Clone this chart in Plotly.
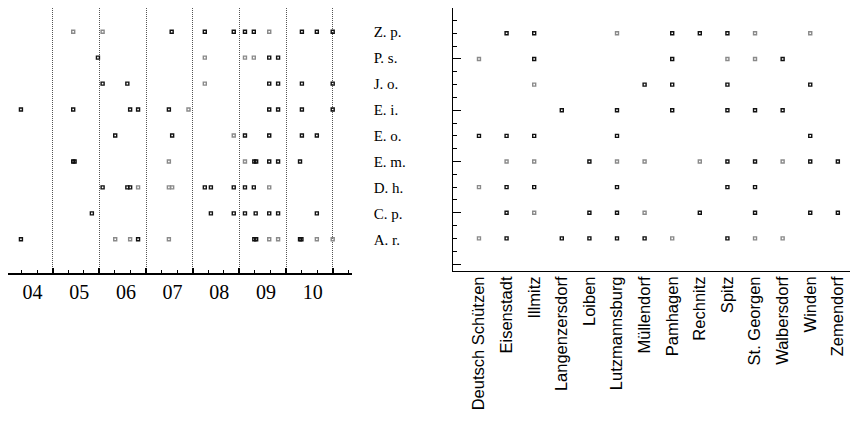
import plotly.graph_objects as go

# ---------------- data ----------------
species = ["A. r.", "C. p.", "D. h.", "E. m.", "E. o.", "E. i.", "J. o.", "P. s.", "Z. p."]
year_labels = ["04", "05", "06", "07", "08", "09", "10"]
years = [2004, 2005, 2006, 2007, 2008, 2009, 2010, 2011]
sites = ["Deutsch Schützen", "Eisenstadt", "Illmitz", "Langenzersdorf", "Loiben",
         "Lutzmannsburg", "Müllendorf", "Pamhagen", "Rechnitz", "Spitz",
         "St. Georgen", "Walbersdorf", "Winden", "Zemendorf"]

# left panel: observation time (decimal year) per species; shade d=dark, l=light
zp_year = [2005.44, 2006.07, 2007.55, 2008.26, 2008.88, 2009.12, 2009.31, 2009.64, 2010.34, 2010.66, 2011.00]
zp_shade = ["l", "l", "d", "d", "d", "d", "d", "l", "d", "d", "d"]
ps_year = [2005.97, 2008.26, 2009.12, 2009.31, 2009.64, 2009.83]
ps_shade = ["d", "l", "l", "l", "d", "d"]
jo_year = [2006.07, 2006.60, 2008.26, 2009.64, 2009.83, 2010.34, 2011.00]
jo_shade = ["d", "d", "l", "d", "d", "d", "d"]
ei_year = [2004.32, 2005.44, 2006.66, 2006.83, 2007.49, 2007.91, 2009.64, 2009.83, 2010.34, 2011.00]
ei_shade = ["d", "d", "d", "d", "d", "l", "d", "d", "d", "d"]
eo_year = [2006.34, 2007.56, 2008.88, 2009.12, 2009.64, 2010.34, 2010.66]
eo_shade = ["d", "d", "l", "d", "d", "d", "d"]
em_year = [2005.44, 2005.47, 2007.49, 2009.12, 2009.32, 2009.36, 2009.64, 2009.83, 2010.30]
em_shade = ["d", "d", "l", "l", "d", "d", "d", "d", "d"]
dh_year = [2006.07, 2006.60, 2006.66, 2006.83, 2007.49, 2007.56, 2008.26, 2008.39, 2008.88, 2009.12, 2009.31, 2009.64]
dh_shade = ["d", "d", "d", "l", "l", "l", "d", "d", "d", "d", "d", "l"]
cp_year = [2005.84, 2008.39, 2008.88, 2009.12, 2009.35, 2009.64, 2009.83, 2010.66]
cp_shade = ["d", "d", "d", "d", "d", "d", "d", "d"]
ar_year = [2004.32, 2006.34, 2006.66, 2006.83, 2007.49, 2009.32, 2009.36, 2009.64, 2009.83, 2010.30, 2010.33, 2010.66, 2011.00]
ar_shade = ["d", "l", "l", "d", "l", "d", "d", "l", "l", "d", "d", "l", "l"]

# right panel: sites where each species occurs; shade d=dark, l=light
zp_site = ["Eisenstadt", "Illmitz", "Lutzmannsburg", "Pamhagen", "Rechnitz", "Spitz", "St. Georgen", "Winden"]
zp_site_shade = ["d", "d", "l", "d", "d", "d", "l", "l"]
ps_site = ["Deutsch Schützen", "Illmitz", "Pamhagen", "Spitz", "St. Georgen", "Walbersdorf"]
ps_site_shade = ["l", "d", "d", "l", "l", "d"]
jo_site = ["Illmitz", "Müllendorf", "Pamhagen", "Spitz", "Winden"]
jo_site_shade = ["l", "d", "d", "d", "d"]
ei_site = ["Langenzersdorf", "Lutzmannsburg", "Pamhagen", "Spitz", "St. Georgen", "Walbersdorf"]
ei_site_shade = ["d", "d", "d", "d", "d", "d"]
eo_site = ["Deutsch Schützen", "Eisenstadt", "Illmitz", "Lutzmannsburg", "Winden"]
eo_site_shade = ["d", "d", "d", "d", "d"]
em_site = ["Eisenstadt", "Illmitz", "Loiben", "Lutzmannsburg", "Müllendorf", "Rechnitz", "Spitz",
           "St. Georgen", "Walbersdorf", "Winden", "Zemendorf"]
em_site_shade = ["l", "l", "d", "l", "l", "l", "d", "d", "l", "d", "d"]
dh_site = ["Deutsch Schützen", "Eisenstadt", "Illmitz", "Lutzmannsburg", "Spitz", "St. Georgen"]
dh_site_shade = ["l", "d", "d", "d", "d", "d"]
cp_site = ["Eisenstadt", "Illmitz", "Loiben", "Lutzmannsburg", "Müllendorf", "Rechnitz", "St. Georgen",
           "Winden", "Zemendorf"]
cp_site_shade = ["d", "l", "d", "d", "l", "d", "d", "d", "d"]
ar_site = ["Deutsch Schützen", "Eisenstadt", "Langenzersdorf", "Loiben", "Lutzmannsburg", "Müllendorf",
           "Pamhagen", "Spitz", "St. Georgen", "Walbersdorf"]
ar_site_shade = ["l", "d", "d", "d", "d", "d", "l", "d", "l", "l"]

left_data = [("Z. p.", zp_year, zp_shade), ("P. s.", ps_year, ps_shade), ("J. o.", jo_year, jo_shade),
             ("E. i.", ei_year, ei_shade), ("E. o.", eo_year, eo_shade), ("E. m.", em_year, em_shade),
             ("D. h.", dh_year, dh_shade), ("C. p.", cp_year, cp_shade), ("A. r.", ar_year, ar_shade)]
right_data = [("Z. p.", zp_site, zp_site_shade), ("P. s.", ps_site, ps_site_shade),
              ("J. o.", jo_site, jo_site_shade), ("E. i.", ei_site, ei_site_shade),
              ("E. o.", eo_site, eo_site_shade), ("E. m.", em_site, em_site_shade),
              ("D. h.", dh_site, dh_site_shade), ("C. p.", cp_site, cp_site_shade),
              ("A. r.", ar_site, ar_site_shade)]

# ---------------- styling ----------------
DARK = "#111111"
LIGHT = "#8a8a8a"
species_pos = {s: i + 1 for i, s in enumerate(species)}


def collect(data, want):
    ox, oy = [], []
    for sp, xs, shades in data:
        for x, s in zip(xs, shades):
            if s == want:
                ox.append(x)
                oy.append(species_pos[sp])
    return ox, oy


fig = go.Figure()
for want, col in (("l", LIGHT), ("d", DARK)):
    mk = dict(symbol="square-open", size=3, color=col, line=dict(width=1.4, color=col))
    x, y = collect(left_data, want)
    fig.add_trace(go.Scatter(x=x, y=y, mode="markers", xaxis="x", yaxis="y", marker=mk,
                             showlegend=False, hoverinfo="skip"))
    x, y = collect(right_data, want)
    fig.add_trace(go.Scatter(x=x, y=y, mode="markers", xaxis="x2", yaxis="y2", marker=mk,
                             showlegend=False, hoverinfo="skip"))

# helper traces so overlay axes render
fig.add_trace(go.Scatter(x=[2004.5], y=[-5], xaxis="x3", yaxis="y", mode="markers",
                         marker=dict(opacity=0), showlegend=False, hoverinfo="skip"))
fig.add_trace(go.Scatter(x=[sites[0]], y=[-5], xaxis="x2", yaxis="y3", mode="markers",
                         marker=dict(opacity=0), showlegend=False, hoverinfo="skip"))

# page has an 8px body margin: the figure is sized to fit the remaining viewport
W, H = 850, 415
xr = [2004.043, 2011.407]
left_dom = [0.0, 343.7 / W]
right_dom = [445.3 / W, 1.0]
left_yr = [-0.29, 9.913]
right_yr = [-0.26, 9.987]

minor_vals = [y + k / 3 for y in range(2004, 2012) for k in (1, 2) if y + k / 3 < xr[1]]

fig.update_layout(
    width=W, height=H,
    margin=dict(l=0, r=0, t=0, b=0, autoexpand=False),
    paper_bgcolor="white", plot_bgcolor="white",
    xaxis=dict(domain=left_dom, range=xr, anchor="y", automargin=False,
               tickmode="array", tickvals=years, ticktext=[""] * len(years),
               ticks="inside", ticklen=5, tickwidth=1.5, tickcolor="black",
               showline=True, linecolor="black", linewidth=1.5,
               showgrid=True, gridcolor="#555555", griddash="1px,1px", gridwidth=1,
               zeroline=False,
               minor=dict(tickmode="array", tickvals=minor_vals, ticks="inside",
                          ticklen=3, tickwidth=1.3, tickcolor="black", showgrid=False)),
    xaxis3=dict(overlaying="x", anchor="y", range=xr, side="bottom", automargin=False,
                tickmode="array", tickvals=[y + 0.57 for y in years[:-1]],
                ticktext=year_labels, ticks="", showline=False, showgrid=False,
                zeroline=False, ticklabelstandoff=5,
                tickfont=dict(family="Liberation Serif", size=20, color="black")),
    yaxis=dict(domain=[1 - 264.8 / H, 1.0], range=left_yr, anchor="x",
               side="right", tickmode="array", tickvals=list(range(1, 10)), automargin=False,
               ticktext=species, ticks="", showline=False, showgrid=False,
               zeroline=False, ticklabelstandoff=21,
               tickfont=dict(family="Liberation Serif", size=15, color="black")),
    xaxis2=dict(domain=right_dom, anchor="y2", type="category", automargin=False,
                categoryorder="array", categoryarray=sites,
                range=[-0.93, 13.73], tickangle=-90, ticks="",
                showline=True, mirror=True, linecolor="black", linewidth=1.3,
                showgrid=False, zeroline=False, ticklabelstandoff=-2,
                tickfont=dict(family="Liberation Sans", size=16.5, color="black")),
    yaxis2=dict(domain=[1 - 262.7 / H, 1.0], range=right_yr, anchor="x2",
                tickmode="linear", tick0=0, dtick=2, ticks="inside", ticklen=8,
                tickwidth=1.3, tickcolor="black", showticklabels=False, automargin=False,
                showline=True, linecolor="black", linewidth=1.3,
                showgrid=False, zeroline=False,
                minor=dict(tick0=0, dtick=0.5, ticks="inside", ticklen=4,
                           tickwidth=1.3, tickcolor="black", showgrid=False)),
    yaxis3=dict(overlaying="y2", anchor="x2", side="right", range=right_yr,
                tickmode="linear", tick0=0, dtick=2, ticks="inside", ticklen=4,
                tickwidth=1.3, tickcolor="black", showticklabels=False, automargin=False,
                showline=False, showgrid=False, zeroline=False),
)

fig.write_html("out.html")
